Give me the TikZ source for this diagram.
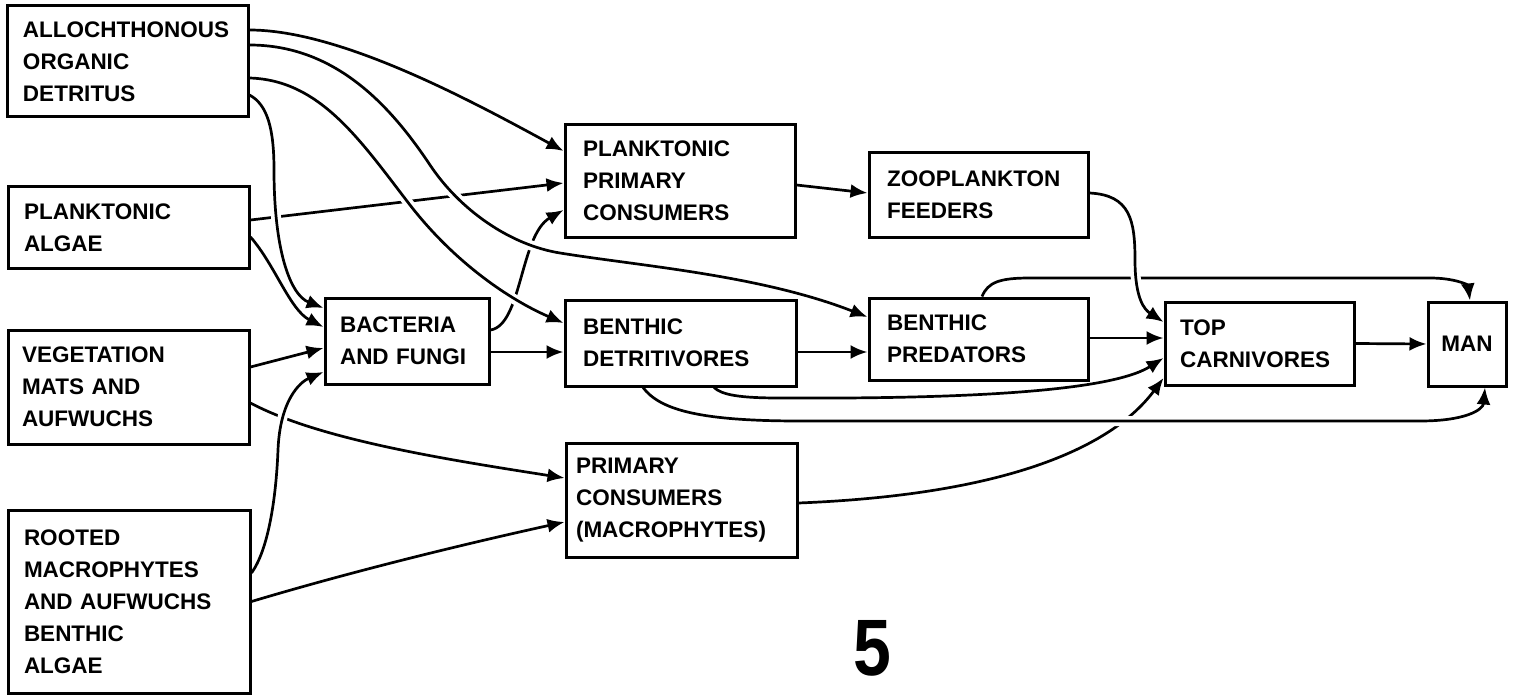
\documentclass[tikz,border=0pt]{standalone}
\usepackage{fontspec}
\setmainfont{Liberation Sans}
\usetikzlibrary{arrows.meta}
\pgfdeclarelayer{back}
\pgfdeclarelayer{lines}
\pgfsetlayers{back,lines,main}
\begin{document}
\begin{tikzpicture}[x=1pt,y=-1pt,
  box/.style={draw, line width=3pt, rectangle, align=left, inner ysep=0pt, inner xsep=16pt,
    font=\fontsize{22.5}{32}\selectfont\bfseries},
  arr/.style={line width=2.7pt, -{Latex[length=17pt,width=14pt]}},
  halo/.style={preaction={draw=white, line width=10pt, -, shorten <=10pt, shorten >=24pt}}]
\begin{pgfonlayer}{back}
\fill[white] (0,0) rectangle (1514,695);
\end{pgfonlayer}
\useasboundingbox (0,0) rectangle (1514,695);

% nodes
\node[box, text width=209pt, minimum height=111pt] (allo) at (127.5,61.5) {ALLOCHTHONOUS\\ORGANIC\\DETRITUS};
\node[box, text width=209pt, minimum height=81pt] (pa) at (128.5,227.5) {PLANKTONIC\\ALGAE};
\node[box, inner xsep=14pt, text width=213pt, minimum height=114pt] (veg) at (128.5,387) {VEGETATION\\MATS AND\\AUFWUCHS};
\node[box, text width=210pt, minimum height=183pt] (root) at (129,601.5) {ROOTED\\MACROPHYTES\\AND AUFWUCHS\\BENTHIC\\ALGAE};
\node[box, inner xsep=15pt, text width=134pt, minimum height=86pt] (bac) at (407,341) {BACTERIA\\AND FUNGI};
\node[box, inner xsep=18pt, text width=194pt, minimum height=112pt] (ppc) at (680,181) {PLANKTONIC\\PRIMARY\\CONSUMERS};
\node[box, inner xsep=18pt, text width=195pt, minimum height=86pt] (bd) at (680.5,343) {BENTHIC\\DETRITIVORES};
\node[box, inner xsep=10pt, text width=211pt, minimum height=114pt] (pcm) at (681.5,500) {PRIMARY\\CONSUMERS\\(MACROPHYTES)};
\node[box, inner xsep=18pt, text width=183pt, minimum height=84pt] (zf) at (978.5,195) {ZOOPLANKTON\\FEEDERS};
\node[box, inner xsep=18pt, text width=183pt, minimum height=82pt] (bp) at (978.5,339) {BENTHIC\\PREDATORS};
\node[box, inner xsep=15pt, text width=159pt, minimum height=83pt] (tc) at (1259.5,343.5) {TOP\\CARNIVORES};
\node[box, inner xsep=0pt, minimum width=78pt, minimum height=84pt] (man) at (1467,344) {MAN};
\node[font=\fontsize{80}{80}\selectfont\bfseries, xscale=0.85, inner sep=0pt] (num) at (872,648) {5};

\begin{pgfonlayer}{lines}
% connectors that pass underneath
\draw[arr] ([yshift=7.5pt]pa.east) -- ([yshift=-2pt]ppc.west);
\draw[arr] ([yshift=11pt]bac.east) .. controls (522,325) and (520,235) .. ([yshift=-29pt]ppc.west);
\draw[arr] ([yshift=-16pt]veg.east) .. controls (320,440) and (450,460) .. ([yshift=22pt]pcm.west);
\draw[arr] ([xshift=3.5pt]bp.north) .. controls (988,282) and (1000,278) .. (1030,278) -- (1430,278) .. controls (1455,278) and (1468,285) .. ([xshift=3pt]man.north);
\draw[arr] ([yshift=-3pt]pcm.east) .. controls (1000,495) and (1110,450) .. ([yshift=-34.5pt]tc.west);

% connectors on top
\draw[arr] ([yshift=31.5pt]allo.east) .. controls (340,30) and (470,100) .. ([yshift=30pt]ppc.west);
\draw[arr,halo] ([yshift=16.5pt]allo.east) .. controls (335,45) and (390,105) .. (430,165)
   .. controls (460,210) and (510,245) .. (560,253) .. controls (640,266) and (760,275) .. ([yshift=22pt]bp.west);
\draw[arr,halo] ([yshift=-16.5pt]allo.east) .. controls (320,80) and (360,140) .. (410,205)
   .. controls (455,263) and (510,300) .. ([yshift=20pt]bd.west);
\draw[arr,halo] ([yshift=-33.5pt]allo.east) .. controls (268,105) and (274,130) .. (274,170)
   .. controls (274,250) and (290,295) .. ([yshift=33pt]bac.west);
\draw[arr] ([yshift=-9.5pt]pa.east) .. controls (275,265) and (290,310) .. ([yshift=14pt]bac.west);
\draw[arr] ([yshift=20pt]veg.east) -- ([yshift=-7pt]bac.west);
\draw[arr,halo] ([yshift=28.5pt]root.east) .. controls (268,550) and (276,500) .. (278,450)
   .. controls (280,400) and (300,382) .. ([yshift=-31pt]bac.west);
\draw[arr] (root.east) .. controls (350,572) and (460,545) .. ([yshift=-22pt]pcm.west);
\draw[arr] ([yshift=-11pt]bac.east) -- ([yshift=-9pt]bd.west);
\draw[arr] ([yshift=-4pt]ppc.east) -- ([yshift=2pt]zf.west);
\draw[arr] ([yshift=-9pt]bd.east) -- ([yshift=-13pt]bp.west);
\draw[arr,halo] ([yshift=2pt]zf.east) .. controls (1130,195) and (1135,220) .. (1135,260)
   .. controls (1135,300) and (1145,310) .. ([yshift=21.5pt]tc.west);
\draw[arr] ([yshift=1pt]bp.east) -- ([yshift=5.5pt]tc.west);
\draw[arr,halo] ([xshift=33.5pt]bd.south) .. controls (722,395) and (740,398) .. (780,398)
   .. controls (960,399) and (1110,392) .. ([yshift=-14.5pt]tc.west);
\draw[arr,halo] ([xshift=-37.5pt]bd.south) .. controls (660,410) and (700,421) .. (800,421)
   -- (1420,421) .. controls (1465,421) and (1483,410) .. ([xshift=18pt]man.south);
\draw[arr] (tc.east) -- (man.west);
\end{pgfonlayer}
\end{tikzpicture}
\end{document}
